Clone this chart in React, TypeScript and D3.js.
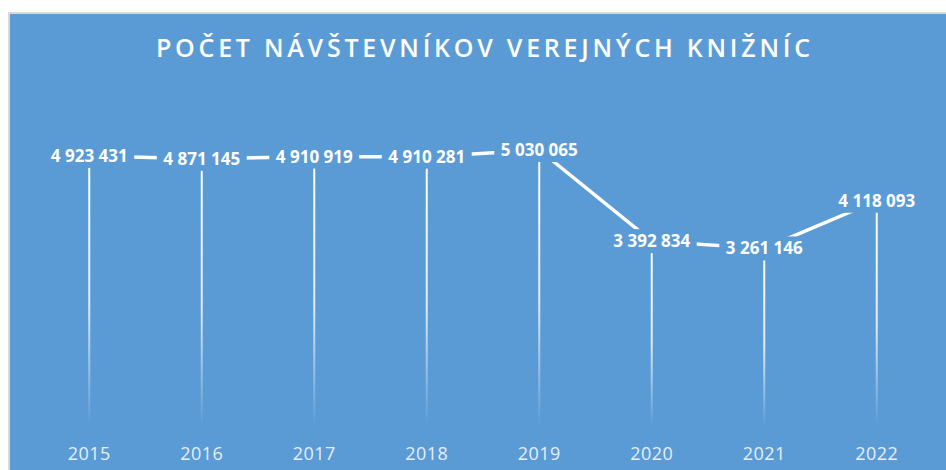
import React from "react";
import * as d3 from "d3";

const years = ["2015", "2016", "2017", "2018", "2019", "2020", "2021", "2022"];
const visitors = [4923431, 4871145, 4910919, 4910281, 5030065, 3392834, 3261146, 4118093];
const title = "POČET NÁVŠTEVNÍKOV VEREJNÝCH KNIŽNÍC";

const W = 946;
const H = 470;
const BLUE = "#5b9bd5";

const locale = d3.formatLocale({ decimal: ",", thousands: " ", grouping: [3], currency: ["", ""] });
const fmt = locale.format(",d");

export default function App() {
  const x = d3.scaleBand<string>().domain(years).range([33, 933]);
  const y = d3.scaleLinear().domain([0, 6000000]).range([430, 96]);
  const cx = (yr: string) => (x(yr) as number) + x.bandwidth() / 2;
  const pts = years.map((yr, i) => ({ yr, v: visitors[i], px: cx(yr), py: y(visitors[i]) }));
  const line = d3.line<{ px: number; py: number }>().x((d) => d.px).y((d) => d.py);

  const labelFont = 17;
  const approxW = (s: string) =>
    s.split("").reduce((a, c) => a + (c === " " ? 0.26 : 0.572), 0) * labelFont;

  return (
    <svg width={W} height={H} style={{ position: "absolute", left: 0, top: 0 }}>
      <defs>
        <linearGradient id="drop" x1="0" y1="0" x2="0" y2="1">
          <stop offset="0" stopColor="#fff" stopOpacity={1} />
          <stop offset="0.55" stopColor="#fff" stopOpacity={0.8} />
          <stop offset="1" stopColor="#fff" stopOpacity={0} />
        </linearGradient>
      </defs>
      <rect x={0} y={0} width={W} height={H} fill="#fff" />
      <rect x={9} y={13} width={W + 10} height={H + 10} fill={BLUE} stroke="#d9d9d9" strokeWidth={2} />
      <text
        x={483}
        y={57}
        textAnchor="middle"
        fill="#fff"
        fontFamily="'Open Sans', sans-serif"
        fontWeight={600}
        fontSize={25}
        textLength={654}
        lengthAdjust="spacing"
      >
        {title}
      </text>
      {pts.map((p) => (
        <rect key={"d" + p.yr} x={p.px - 1} y={p.py} width={2} height={y(0) - p.py - 4} fill="url(#drop)" />
      ))}
      <path d={line(pts) || ""} fill="none" stroke="#fff" strokeWidth={3.5} />
      {pts.map((p) => {
        const s = fmt(p.v);
        const w = approxW(s) + 13;
        return (
          <g key={"l" + p.yr}>
            <rect x={p.px - w / 2} y={p.py - 12} width={w} height={24} fill={BLUE} />
            <text
              x={p.px}
              y={p.py + 6}
              textAnchor="middle"
              fill="#fff"
              fontFamily="'Open Sans', sans-serif"
              fontWeight={700}
              fontSize={labelFont}
            >
              {s}
            </text>
          </g>
        );
      })}
      {years.map((yr) => (
        <text
          key={"t" + yr}
          x={cx(yr)}
          y={460}
          textAnchor="middle"
          fill="#e6eef8"
          fontFamily="'Open Sans', sans-serif"
          fontSize={18}
          letterSpacing={0.5}
        >
          {yr}
        </text>
      ))}
    </svg>
  );
}
